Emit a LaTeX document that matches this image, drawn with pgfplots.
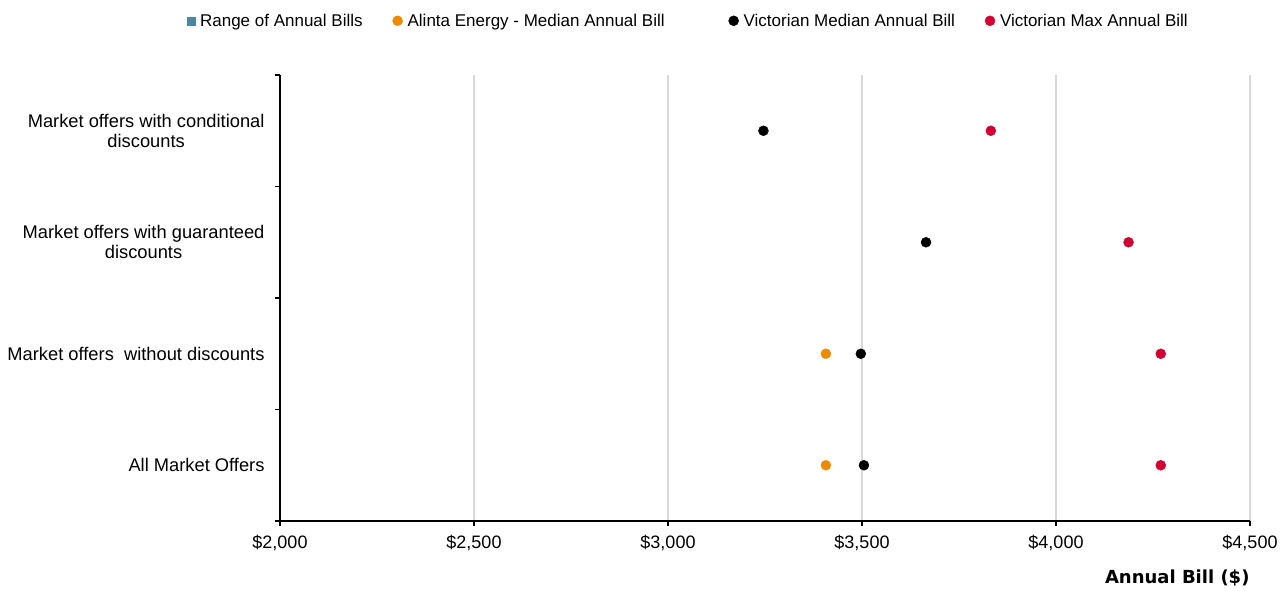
\documentclass[border=0pt]{standalone}
\usepackage{fontspec}
\setmainfont{Liberation Sans}
\newfontfamily\verd{DejaVu Sans}
\usepackage{pgfplots}
\pgfplotsset{compat=1.18}

\definecolor{rangeblue}{HTML}{4A87A3}
\definecolor{alinta}{HTML}{EE8A00}
\definecolor{vicmax}{HTML}{D40032}
\definecolor{gridgray}{HTML}{D9D9D9}

\begin{document}
\begin{tikzpicture}
\begin{axis}[
  at={(0pt,0pt)}, anchor=south west,
  scale only axis, width=970pt, height=446pt,
  xmin=2000, xmax=4500, ymin=0, ymax=4,
  axis lines=left, axis line style={-, line width=1.1pt},
  xtick={2000,2500,3000,3500,4000,4500},
  xticklabels={{\$2,000},{\$2,500},{\$3,000},{\$3,500},{\$4,000},{\$4,500}},
  ytick={0,1,2,3,4}, yticklabels={},
  extra y ticks={0.5,1.5,2.5,3.5},
  extra y tick labels={{All Market Offers},{Market offers\ \ without discounts},{Market offers with guaranteed\\discounts},{Market offers with conditional\\discounts}},
  extra y tick style={major tick length=0pt, yticklabel style={align=center, xshift=-12pt, font=\fontsize{18.3}{20}\selectfont}},
  tick align=outside, major tick length=5pt,
  tick style={black, line width=1.1pt},
  xmajorgrids, grid style={gridgray, line width=1.2pt},
  ticklabel style={font=\fontsize{18}{20}\selectfont},
  xticklabel style={yshift=-6pt},
  xlabel={\verd\bfseries Annual Bill (\$)},
  xlabel style={at={(rel axis cs:1,0)}, anchor=east, yshift=-57pt, xshift=3pt, font=\fontsize{18}{20}\selectfont},
  legend columns=4,
  legend style={at={(rel axis cs:-0.096,1.142)}, anchor=north west, draw=none,
    font=\fontsize{17}{20}\selectfont, inner sep=0pt,
    /tikz/every odd column/.append style={column sep=3pt},
    /tikz/column 2/.style={column sep=28pt},
    /tikz/column 4/.style={column sep=62pt},
    /tikz/column 6/.style={column sep=28pt}},
  legend image code/.code={\draw[#1] plot coordinates {(0pt,0pt)};},
]
% empty series: only its legend key shows in the chart
\addlegendimage{only marks, mark=square*, mark size=4pt, color=rangeblue}
\addlegendentry{Range of Annual Bills}

\addplot[only marks, mark=*, mark size=5pt, color=alinta, mark options={draw=none}] coordinates {
(3407,0.5)
(3407,1.5)
};
\addlegendentry{Alinta Energy - Median Annual Bill}

\addplot[only marks, mark=*, mark size=5pt, color=black, mark options={draw=none}] coordinates {
(3505,0.5)
(3497,1.5)
(3665,2.5)
(3246,3.5)
};
\addlegendentry{Victorian Median Annual Bill}

\addplot[only marks, mark=*, mark size=5pt, color=vicmax, mark options={draw=none}] coordinates {
(4270,0.5)
(4270,1.5)
(4187,2.5)
(3832,3.5)
};
\addlegendentry{Victorian Max Annual Bill}
\end{axis}
\useasboundingbox (-280pt,-69pt) rectangle (1008pt,521pt);
\end{tikzpicture}
\end{document}
